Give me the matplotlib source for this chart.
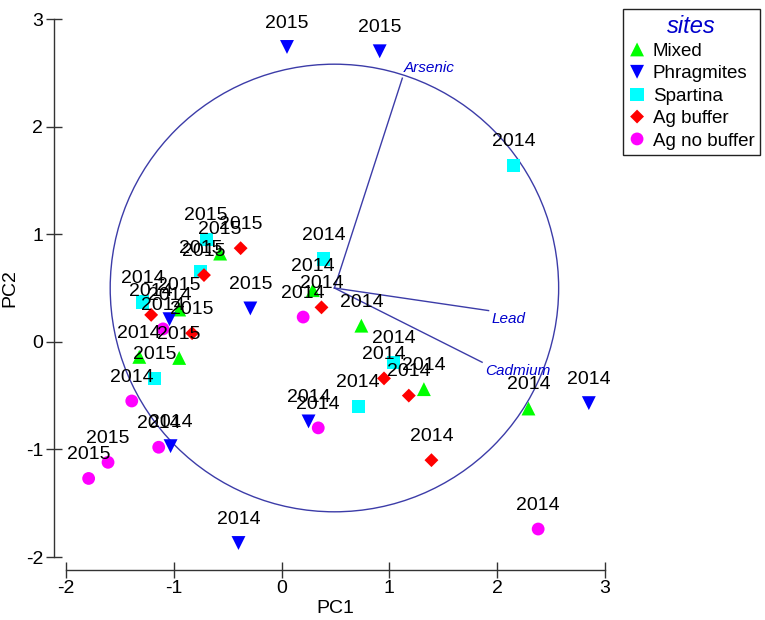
import matplotlib
matplotlib.use("Agg")
import matplotlib.pyplot as plt
from matplotlib.patches import Circle

plt.rcParams["font.family"] = ["Liberation Sans", "DejaVu Sans"]
plt.rcParams["axes.unicode_minus"] = False

# scores PCA por grupo (PC1, PC2, ano)
mixed_pc1 = [2.29, 1.32, 0.74, 0.29, -0.57, -0.95, -0.95, -1.32]
mixed_pc2 = [-0.62, -0.44, 0.15, 0.48, 0.82, 0.30, -0.15, -0.14]
mixed_ano = ["2014", "2014", "2014", "2014", "2015", "2015", "2015", "2014"]

phrag_pc1 = [0.05, 0.91, 2.85, -0.40, -1.03, 0.25, -0.29, -1.04]
phrag_pc2 = [2.74, 2.70, -0.57, -1.87, -0.97, -0.74, 0.31, 0.21]
phrag_ano = ["2015", "2015", "2014", "2014", "2014", "2014", "2015", "2014"]

spart_pc1 = [2.15, 0.39, 1.04, 0.71, -0.70, -0.75, -1.29, -1.18]
spart_pc2 = [1.64, 0.77, -0.19, -0.60, 0.95, 0.65, 0.37, -0.34]
spart_ano = ["2014", "2014", "2014", "2014", "2015", "2015", "2014", "2015"]

agbuf_pc1 = [1.39, 1.18, 0.95, 0.37, -0.38, -0.72, -1.21, -0.83]
agbuf_pc2 = [-1.10, -0.50, -0.34, 0.32, 0.87, 0.62, 0.25, 0.08]
agbuf_ano = ["2014", "2014", "2014", "2014", "2015", "2015", "2014", "2015"]

agnob_pc1 = [-1.79, -1.61, -1.14, -1.39, -1.10, 0.20, 0.34, 2.38]
agnob_pc2 = [-1.27, -1.12, -0.98, -0.55, 0.12, 0.23, -0.80, -1.74]
agnob_ano = ["2015", "2015", "2014", "2014", "2014", "2014", "2014", "2014"]

# vetores das variaveis
vetor_nomes = ["Arsenic", "Lead", "Cadmium"]
vetor_pc1 = [1.12, 1.92, 1.86]
vetor_pc2 = [2.45, 0.29, -0.19]
vetor_origem = (0.49, 0.50)
raio_circulo = 2.08

grupos = [
    ("Mixed", mixed_pc1, mixed_pc2, mixed_ano, "^", "#00ff00", 100),
    ("Phragmites", phrag_pc1, phrag_pc2, phrag_ano, "v", "#0000ff", 100),
    ("Spartina", spart_pc1, spart_pc2, spart_ano, "s", "#00ffff", 90),
    ("Ag buffer", agbuf_pc1, agbuf_pc2, agbuf_ano, "D", "#ff0000", 50),
    ("Ag no buffer", agnob_pc1, agnob_pc2, agnob_ano, "o", "#ff00ff", 85),
]

cor_linha = "#3c3ca8"
cor_texto = "#0000cc"
fonte = 14

fig = plt.figure(figsize=(7.65, 6.2), dpi=100)
ax = fig.add_axes([66 / 765, 1 - 557 / 620, 539 / 765, 538 / 620])

for nome, xs, ys, anos, marcador, cor, tam in grupos:
    ax.scatter(xs, ys, marker=marcador, s=tam, color=cor, edgecolors="none", label=nome, zorder=2)
    for x, y, ano in zip(xs, ys, anos):
        ax.annotate(ano, (x, y), xytext=(0, 17), textcoords="offset points",
                    ha="center", va="center", fontsize=fonte, color="black", zorder=4)

ax.add_patch(Circle(vetor_origem, raio_circulo, fill=False, color=cor_linha, lw=1.0, zorder=1))

desloc = {"Arsenic": (1, 7), "Lead": (2, -6), "Cadmium": (2, -6)}
for nome, vx, vy in zip(vetor_nomes, vetor_pc1, vetor_pc2):
    ax.plot([vetor_origem[0], vx], [vetor_origem[1], vy], color=cor_linha, lw=1.0, zorder=1)
    ax.annotate(nome, (vx, vy), xytext=desloc[nome], textcoords="offset points",
                ha="left", va="center", fontsize=11, style="italic", color=cor_texto)

ax.set_xlim(-2, 3)
ax.set_ylim(-2, 3)
ax.set_xticks([-2, -1, 0, 1, 2, 3])
ax.set_yticks([-2, -1, 0, 1, 2, 3])
ax.spines["top"].set_visible(False)
ax.spines["right"].set_visible(False)
ax.spines["left"].set_position(("outward", 9))
ax.spines["bottom"].set_position(("outward", 9))
ax.spines["left"].set_bounds(-2, 3)
ax.spines["bottom"].set_bounds(-2, 3)
for sp in ("left", "bottom"):
    ax.spines[sp].set_color("#333333")
    ax.spines[sp].set_linewidth(1.0)
ax.tick_params(direction="inout", length=11, width=1.0, color="#333333", labelsize=fonte, pad=2)
ax.set_xlabel("PC1", fontsize=fonte)
ax.set_ylabel("PC2", fontsize=fonte)
ax.xaxis.set_label_coords(0.5, -0.08)
ax.yaxis.set_label_coords(-0.088, 0.5)

leg = ax.legend(loc="upper left", bbox_to_anchor=(623 / 765, 1 - 9 / 620), bbox_transform=fig.transFigure,
                borderaxespad=0, fontsize=13.5, title="sites", fancybox=False, framealpha=1,
                edgecolor="#222222", handlelength=0.9, handletextpad=0.4, labelspacing=0.28,
                borderpad=0.3, scatteryoffsets=[0.5])
leg.get_title().set_fontsize(17)
leg.get_title().set_style("italic")
leg.get_title().set_color(cor_texto)
leg.get_frame().set_linewidth(1.0)

fig.savefig("out.png", dpi=100)
